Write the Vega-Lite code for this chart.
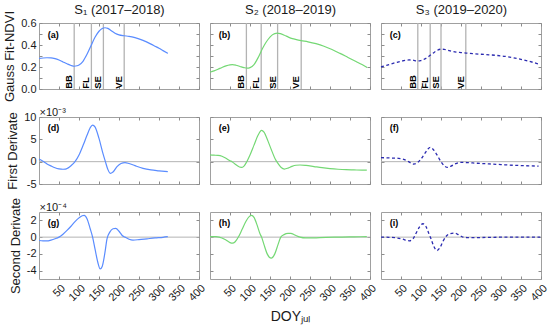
{
"$schema": "https://vega.github.io/schema/vega-lite/v6.json",
"background": "white",
"padding": {"left": 3, "top": 3, "right": 4, "bottom": 2},
"columns": 3,
"spacing": {"row": 28, "column": 11},
"bounds": "flush",
"config": {
  "font": "Liberation Sans",
  "view": {"stroke": "#a0a0a0", "strokeWidth": 1},
  "axis": {"domain": false, "grid": false, "tickSize": -3, "tickColor": "#8c8c8c", "tickWidth": 1, "labelFontSize": 11, "labelColor": "#1a1a1a", "labelPadding": 6, "labelOverlap": false, "labelBound": false, "titleFontSize": 13, "titleFontWeight": "normal", "titleColor": "#1a1a1a", "titlePadding": 4}
},
"datasets": {
  "curves": [
    {"s":"S1","p":"n","doy":0,"v":0.278},{"s":"S1","p":"n","doy":10,"v":0.282},{"s":"S1","p":"n","doy":20,"v":0.284},{"s":"S1","p":"n","doy":30,"v":0.283},{"s":"S1","p":"n","doy":40,"v":0.276},{"s":"S1","p":"n","doy":50,"v":0.263},{"s":"S1","p":"n","doy":60,"v":0.246},{"s":"S1","p":"n","doy":70,"v":0.229},{"s":"S1","p":"n","doy":80,"v":0.214},{"s":"S1","p":"n","doy":88,"v":0.207},{"s":"S1","p":"n","doy":95,"v":0.211},{"s":"S1","p":"n","doy":100,"v":0.219},{"s":"S1","p":"n","doy":110,"v":0.252},{"s":"S1","p":"n","doy":120,"v":0.315},{"s":"S1","p":"n","doy":130,"v":0.393},{"s":"S1","p":"n","doy":140,"v":0.470},{"s":"S1","p":"n","doy":150,"v":0.525},{"s":"S1","p":"n","doy":158,"v":0.550},{"s":"S1","p":"n","doy":165,"v":0.557},{"s":"S1","p":"n","doy":172,"v":0.551},{"s":"S1","p":"n","doy":180,"v":0.532},{"s":"S1","p":"n","doy":190,"v":0.507},{"s":"S1","p":"n","doy":200,"v":0.492},{"s":"S1","p":"n","doy":213,"v":0.484},{"s":"S1","p":"n","doy":225,"v":0.479},{"s":"S1","p":"n","doy":240,"v":0.467},{"s":"S1","p":"n","doy":260,"v":0.442},{"s":"S1","p":"n","doy":280,"v":0.408},{"s":"S1","p":"n","doy":290,"v":0.389},{"s":"S1","p":"n","doy":300,"v":0.370},{"s":"S1","p":"n","doy":310,"v":0.349},{"s":"S1","p":"n","doy":322,"v":0.324},
    {"s":"S1","p":"d1","doy":0,"v":0.6},{"s":"S1","p":"d1","doy":10,"v":0.1},{"s":"S1","p":"d1","doy":20,"v":-0.5},{"s":"S1","p":"d1","doy":30,"v":-0.95},{"s":"S1","p":"d1","doy":40,"v":-1.35},{"s":"S1","p":"d1","doy":50,"v":-1.6},{"s":"S1","p":"d1","doy":60,"v":-1.7},{"s":"S1","p":"d1","doy":66,"v":-1.68},{"s":"S1","p":"d1","doy":72,"v":-1.45},{"s":"S1","p":"d1","doy":80,"v":-0.9},{"s":"S1","p":"d1","doy":90,"v":0.0},{"s":"S1","p":"d1","doy":100,"v":1.5},{"s":"S1","p":"d1","doy":110,"v":3.6},{"s":"S1","p":"d1","doy":120,"v":5.9},{"s":"S1","p":"d1","doy":128,"v":7.6},{"s":"S1","p":"d1","doy":134,"v":8.2},{"s":"S1","p":"d1","doy":140,"v":7.8},{"s":"S1","p":"d1","doy":150,"v":5.2},{"s":"S1","p":"d1","doy":160,"v":1.8},{"s":"S1","p":"d1","doy":166,"v":0.0},{"s":"S1","p":"d1","doy":172,"v":-1.7},{"s":"S1","p":"d1","doy":178,"v":-2.6},{"s":"S1","p":"d1","doy":185,"v":-2.3},{"s":"S1","p":"d1","doy":195,"v":-1.1},{"s":"S1","p":"d1","doy":205,"v":-0.4},{"s":"S1","p":"d1","doy":215,"v":-0.2},{"s":"S1","p":"d1","doy":225,"v":-0.4},{"s":"S1","p":"d1","doy":240,"v":-0.9},{"s":"S1","p":"d1","doy":260,"v":-1.5},{"s":"S1","p":"d1","doy":280,"v":-1.85},{"s":"S1","p":"d1","doy":300,"v":-2.05},{"s":"S1","p":"d1","doy":322,"v":-2.25},
    {"s":"S1","p":"d2","doy":0,"v":-0.4},{"s":"S1","p":"d2","doy":10,"v":-0.45},{"s":"S1","p":"d2","doy":20,"v":-0.45},{"s":"S1","p":"d2","doy":30,"v":-0.35},{"s":"S1","p":"d2","doy":40,"v":-0.2},{"s":"S1","p":"d2","doy":50,"v":0.0},{"s":"S1","p":"d2","doy":60,"v":0.35},{"s":"S1","p":"d2","doy":70,"v":0.8},{"s":"S1","p":"d2","doy":80,"v":1.3},{"s":"S1","p":"d2","doy":90,"v":1.85},{"s":"S1","p":"d2","doy":100,"v":2.3},{"s":"S1","p":"d2","doy":108,"v":2.55},{"s":"S1","p":"d2","doy":113,"v":2.6},{"s":"S1","p":"d2","doy":120,"v":2.2},{"s":"S1","p":"d2","doy":128,"v":1.0},{"s":"S1","p":"d2","doy":134,"v":0.0},{"s":"S1","p":"d2","doy":140,"v":-1.4},{"s":"S1","p":"d2","doy":147,"v":-3.0},{"s":"S1","p":"d2","doy":153,"v":-3.8},{"s":"S1","p":"d2","doy":158,"v":-3.5},{"s":"S1","p":"d2","doy":165,"v":-1.8},{"s":"S1","p":"d2","doy":170,"v":-0.2},{"s":"S1","p":"d2","doy":177,"v":0.6},{"s":"S1","p":"d2","doy":185,"v":1.0},{"s":"S1","p":"d2","doy":192,"v":1.05},{"s":"S1","p":"d2","doy":200,"v":0.7},{"s":"S1","p":"d2","doy":208,"v":0.2},{"s":"S1","p":"d2","doy":215,"v":0.0},{"s":"S1","p":"d2","doy":225,"v":-0.25},{"s":"S1","p":"d2","doy":235,"v":-0.35},{"s":"S1","p":"d2","doy":250,"v":-0.3},{"s":"S1","p":"d2","doy":270,"v":-0.2},{"s":"S1","p":"d2","doy":290,"v":-0.1},{"s":"S1","p":"d2","doy":310,"v":-0.02},{"s":"S1","p":"d2","doy":322,"v":0.05},
    {"s":"S2","p":"n","doy":0,"v":0.152},{"s":"S2","p":"n","doy":10,"v":0.165},{"s":"S2","p":"n","doy":20,"v":0.180},{"s":"S2","p":"n","doy":30,"v":0.196},{"s":"S2","p":"n","doy":40,"v":0.210},{"s":"S2","p":"n","doy":50,"v":0.219},{"s":"S2","p":"n","doy":56,"v":0.221},{"s":"S2","p":"n","doy":65,"v":0.216},{"s":"S2","p":"n","doy":75,"v":0.205},{"s":"S2","p":"n","doy":85,"v":0.194},{"s":"S2","p":"n","doy":93,"v":0.189},{"s":"S2","p":"n","doy":100,"v":0.194},{"s":"S2","p":"n","doy":110,"v":0.222},{"s":"S2","p":"n","doy":120,"v":0.283},{"s":"S2","p":"n","doy":128,"v":0.344},{"s":"S2","p":"n","doy":136,"v":0.400},{"s":"S2","p":"n","doy":145,"v":0.450},{"s":"S2","p":"n","doy":155,"v":0.490},{"s":"S2","p":"n","doy":162,"v":0.504},{"s":"S2","p":"n","doy":168,"v":0.508},{"s":"S2","p":"n","doy":176,"v":0.503},{"s":"S2","p":"n","doy":186,"v":0.489},{"s":"S2","p":"n","doy":196,"v":0.472},{"s":"S2","p":"n","doy":206,"v":0.458},{"s":"S2","p":"n","doy":216,"v":0.449},{"s":"S2","p":"n","doy":228,"v":0.440},{"s":"S2","p":"n","doy":245,"v":0.429},{"s":"S2","p":"n","doy":265,"v":0.412},{"s":"S2","p":"n","doy":285,"v":0.389},{"s":"S2","p":"n","doy":305,"v":0.359},{"s":"S2","p":"n","doy":325,"v":0.324},{"s":"S2","p":"n","doy":345,"v":0.287},{"s":"S2","p":"n","doy":365,"v":0.250},{"s":"S2","p":"n","doy":380,"v":0.222},{"s":"S2","p":"n","doy":393,"v":0.195},
    {"s":"S2","p":"d1","doy":0,"v":1.5},{"s":"S2","p":"d1","doy":10,"v":1.45},{"s":"S2","p":"d1","doy":20,"v":1.4},{"s":"S2","p":"d1","doy":30,"v":1.2},{"s":"S2","p":"d1","doy":40,"v":0.75},{"s":"S2","p":"d1","doy":50,"v":0.2},{"s":"S2","p":"d1","doy":55,"v":0.0},{"s":"S2","p":"d1","doy":65,"v":-0.7},{"s":"S2","p":"d1","doy":78,"v":-1.3},{"s":"S2","p":"d1","doy":85,"v":-1.0},{"s":"S2","p":"d1","doy":92,"v":0.0},{"s":"S2","p":"d1","doy":100,"v":1.5},{"s":"S2","p":"d1","doy":110,"v":3.7},{"s":"S2","p":"d1","doy":120,"v":5.9},{"s":"S2","p":"d1","doy":129,"v":7.0},{"s":"S2","p":"d1","doy":135,"v":6.6},{"s":"S2","p":"d1","doy":145,"v":4.6},{"s":"S2","p":"d1","doy":155,"v":2.3},{"s":"S2","p":"d1","doy":163,"v":0.6},{"s":"S2","p":"d1","doy":170,"v":-0.4},{"s":"S2","p":"d1","doy":178,"v":-1.3},{"s":"S2","p":"d1","doy":186,"v":-1.65},{"s":"S2","p":"d1","doy":195,"v":-1.45},{"s":"S2","p":"d1","doy":205,"v":-1.05},{"s":"S2","p":"d1","doy":215,"v":-0.8},{"s":"S2","p":"d1","doy":225,"v":-0.75},{"s":"S2","p":"d1","doy":240,"v":-0.85},{"s":"S2","p":"d1","doy":260,"v":-1.1},{"s":"S2","p":"d1","doy":280,"v":-1.35},{"s":"S2","p":"d1","doy":300,"v":-1.55},{"s":"S2","p":"d1","doy":320,"v":-1.7},{"s":"S2","p":"d1","doy":340,"v":-1.8},{"s":"S2","p":"d1","doy":360,"v":-1.85},{"s":"S2","p":"d1","doy":380,"v":-1.9},{"s":"S2","p":"d1","doy":392,"v":-1.9},
    {"s":"S2","p":"d2","doy":0,"v":0.07},{"s":"S2","p":"d2","doy":15,"v":0.05},{"s":"S2","p":"d2","doy":30,"v":-0.1},{"s":"S2","p":"d2","doy":40,"v":-0.35},{"s":"S2","p":"d2","doy":50,"v":-0.65},{"s":"S2","p":"d2","doy":56,"v":-0.72},{"s":"S2","p":"d2","doy":63,"v":-0.55},{"s":"S2","p":"d2","doy":72,"v":0.1},{"s":"S2","p":"d2","doy":80,"v":0.9},{"s":"S2","p":"d2","doy":90,"v":1.9},{"s":"S2","p":"d2","doy":98,"v":2.45},{"s":"S2","p":"d2","doy":104,"v":2.6},{"s":"S2","p":"d2","doy":110,"v":2.35},{"s":"S2","p":"d2","doy":118,"v":1.4},{"s":"S2","p":"d2","doy":125,"v":0.4},{"s":"S2","p":"d2","doy":129,"v":0.0},{"s":"S2","p":"d2","doy":135,"v":-0.9},{"s":"S2","p":"d2","doy":143,"v":-2.0},{"s":"S2","p":"d2","doy":153,"v":-2.5},{"s":"S2","p":"d2","doy":162,"v":-2.0},{"s":"S2","p":"d2","doy":170,"v":-0.9},{"s":"S2","p":"d2","doy":177,"v":0.0},{"s":"S2","p":"d2","doy":185,"v":0.3},{"s":"S2","p":"d2","doy":195,"v":0.45},{"s":"S2","p":"d2","doy":202,"v":0.45},{"s":"S2","p":"d2","doy":212,"v":0.25},{"s":"S2","p":"d2","doy":225,"v":0.0},{"s":"S2","p":"d2","doy":240,"v":-0.1},{"s":"S2","p":"d2","doy":260,"v":-0.08},{"s":"S2","p":"d2","doy":290,"v":-0.02},{"s":"S2","p":"d2","doy":330,"v":0.0},{"s":"S2","p":"d2","doy":360,"v":0.03},{"s":"S2","p":"d2","doy":392,"v":0.06},
    {"s":"S3","p":"n","doy":0,"v":0.200},{"s":"S3","p":"n","doy":10,"v":0.210},{"s":"S3","p":"n","doy":20,"v":0.222},{"s":"S3","p":"n","doy":30,"v":0.233},{"s":"S3","p":"n","doy":40,"v":0.243},{"s":"S3","p":"n","doy":50,"v":0.252},{"s":"S3","p":"n","doy":60,"v":0.260},{"s":"S3","p":"n","doy":70,"v":0.264},{"s":"S3","p":"n","doy":80,"v":0.262},{"s":"S3","p":"n","doy":90,"v":0.255},{"s":"S3","p":"n","doy":95,"v":0.255},{"s":"S3","p":"n","doy":100,"v":0.259},{"s":"S3","p":"n","doy":110,"v":0.274},{"s":"S3","p":"n","doy":120,"v":0.298},{"s":"S3","p":"n","doy":130,"v":0.325},{"s":"S3","p":"n","doy":140,"v":0.350},{"s":"S3","p":"n","doy":150,"v":0.362},{"s":"S3","p":"n","doy":158,"v":0.360},{"s":"S3","p":"n","doy":166,"v":0.353},{"s":"S3","p":"n","doy":176,"v":0.343},{"s":"S3","p":"n","doy":188,"v":0.335},{"s":"S3","p":"n","doy":200,"v":0.331},{"s":"S3","p":"n","doy":213,"v":0.327},{"s":"S3","p":"n","doy":230,"v":0.322},{"s":"S3","p":"n","doy":250,"v":0.316},{"s":"S3","p":"n","doy":270,"v":0.311},{"s":"S3","p":"n","doy":290,"v":0.305},{"s":"S3","p":"n","doy":310,"v":0.297},{"s":"S3","p":"n","doy":330,"v":0.285},{"s":"S3","p":"n","doy":350,"v":0.270},{"s":"S3","p":"n","doy":370,"v":0.252},{"s":"S3","p":"n","doy":385,"v":0.237},{"s":"S3","p":"n","doy":398,"v":0.222},
    {"s":"S3","p":"d1","doy":0,"v":0.9},{"s":"S3","p":"d1","doy":15,"v":0.85},{"s":"S3","p":"d1","doy":30,"v":0.8},{"s":"S3","p":"d1","doy":44,"v":0.75},{"s":"S3","p":"d1","doy":55,"v":0.55},{"s":"S3","p":"d1","doy":65,"v":0.2},{"s":"S3","p":"d1","doy":75,"v":-0.3},{"s":"S3","p":"d1","doy":82,"v":-0.53},{"s":"S3","p":"d1","doy":90,"v":-0.3},{"s":"S3","p":"d1","doy":100,"v":0.6},{"s":"S3","p":"d1","doy":110,"v":1.9},{"s":"S3","p":"d1","doy":117,"v":2.8},{"s":"S3","p":"d1","doy":123,"v":3.2},{"s":"S3","p":"d1","doy":130,"v":2.8},{"s":"S3","p":"d1","doy":140,"v":1.5},{"s":"S3","p":"d1","doy":150,"v":0.0},{"s":"S3","p":"d1","doy":158,"v":-0.9},{"s":"S3","p":"d1","doy":167,"v":-1.28},{"s":"S3","p":"d1","doy":175,"v":-1.0},{"s":"S3","p":"d1","doy":185,"v":-0.5},{"s":"S3","p":"d1","doy":195,"v":-0.2},{"s":"S3","p":"d1","doy":203,"v":-0.15},{"s":"S3","p":"d1","doy":215,"v":-0.2},{"s":"S3","p":"d1","doy":240,"v":-0.35},{"s":"S3","p":"d1","doy":270,"v":-0.5},{"s":"S3","p":"d1","doy":300,"v":-0.65},{"s":"S3","p":"d1","doy":330,"v":-0.8},{"s":"S3","p":"d1","doy":360,"v":-0.9},{"s":"S3","p":"d1","doy":394,"v":-1.0},
    {"s":"S3","p":"d2","doy":0,"v":0.0},{"s":"S3","p":"d2","doy":20,"v":-0.02},{"s":"S3","p":"d2","doy":40,"v":-0.1},{"s":"S3","p":"d2","doy":55,"v":-0.25},{"s":"S3","p":"d2","doy":65,"v":-0.4},{"s":"S3","p":"d2","doy":71,"v":-0.44},{"s":"S3","p":"d2","doy":80,"v":-0.2},{"s":"S3","p":"d2","doy":88,"v":0.5},{"s":"S3","p":"d2","doy":96,"v":1.2},{"s":"S3","p":"d2","doy":105,"v":1.6},{"s":"S3","p":"d2","doy":112,"v":1.3},{"s":"S3","p":"d2","doy":120,"v":0.4},{"s":"S3","p":"d2","doy":125,"v":-0.2},{"s":"S3","p":"d2","doy":132,"v":-1.1},{"s":"S3","p":"d2","doy":140,"v":-1.6},{"s":"S3","p":"d2","doy":148,"v":-1.2},{"s":"S3","p":"d2","doy":155,"v":-0.5},{"s":"S3","p":"d2","doy":163,"v":0.1},{"s":"S3","p":"d2","doy":172,"v":0.4},{"s":"S3","p":"d2","doy":184,"v":0.48},{"s":"S3","p":"d2","doy":195,"v":0.25},{"s":"S3","p":"d2","doy":205,"v":0.0},{"s":"S3","p":"d2","doy":215,"v":-0.05},{"s":"S3","p":"d2","doy":240,"v":-0.05},{"s":"S3","p":"d2","doy":280,"v":-0.02},{"s":"S3","p":"d2","doy":320,"v":0.0},{"s":"S3","p":"d2","doy":360,"v":0.0},{"s":"S3","p":"d2","doy":398,"v":0.0}
  ],
  "events": [
    {"s":"S1","ev":"BB","doy":88},{"s":"S1","ev":"FL","doy":131},{"s":"S1","ev":"SE","doy":161},{"s":"S1","ev":"VE","doy":213},
    {"s":"S2","ev":"BB","doy":91},{"s":"S2","ev":"FL","doy":128},{"s":"S2","ev":"SE","doy":169},{"s":"S2","ev":"VE","doy":228},
    {"s":"S3","ev":"BB","doy":92},{"s":"S3","ev":"FL","doy":123},{"s":"S3","ev":"SE","doy":150},{"s":"S3","ev":"VE","doy":212}
  ]
},
"concat": [
  {"width":160,"height":66,"data":{"values":[{"t":"(a)"}]},
   "layer":[
    {"data":{"name":"events"},"transform":[{"filter":"datum.s=='S1'"}],"mark":{"type":"rule","color":"#b3b3b3","strokeWidth":1.3},"encoding":{"x":{"field":"doy","type":"quantitative","axis":null}}},
    {"data":{"name":"events"},"transform":[{"filter":"datum.s=='S1'"}],"mark":{"type":"text","angle":270,"align":"left","baseline":"bottom","dx":-2,"fontSize":9.5,"fontWeight":"bold"},"encoding":{"x":{"field":"doy","type":"quantitative","axis":null},"y":{"datum":0.02,"axis":null},"text":{"field":"ev"}}},
    {"data":{"name":"curves"},"transform":[{"filter":"datum.s=='S1' && datum.p=='n'"}],"mark":{"type":"line","color":"#5a8cff","strokeWidth":1.2,"interpolate":"monotone"},"encoding":{"x":{"field":"doy","type":"quantitative","scale":{"domain":[0,400],"nice":false},"axis":{"orient":"bottom","values":[50,100,150,200,250,300,350,400],"labels":false,"title":null}},"y":{"field":"v","type":"quantitative","scale":{"domain":[0,0.6],"nice":false},"axis":{"orient":"left","values":[0,0.1,0.2,0.3,0.4,0.5,0.6],"labelExpr":"round(datum.value*10) % 2 == 0 ? datum.label : ''","title":"Gauss Fit-NDVI"}}}},
    {"mark":{"type":"text","align":"left","baseline":"middle","fontSize":9,"fontWeight":"bold"},"encoding":{"x":{"datum":22,"type":"quantitative","axis":{"orient":"top","values":[50,100,150,200,250,300,350,400],"labels":false,"title":"S₁ (2017–2018)","titlePadding":6}},"y":{"datum":0.49,"type":"quantitative","axis":{"orient":"right","values":[0,0.1,0.2,0.3,0.4,0.5,0.6],"labels":false,"title":null}},"text":{"field":"t"}}}
   ],"resolve":{"axis":{"x":"independent","y":"independent"}}},
  {"width":160,"height":66,"data":{"values":[{"t":"(b)"}]},
   "layer":[
    {"data":{"name":"events"},"transform":[{"filter":"datum.s=='S2'"}],"mark":{"type":"rule","color":"#b3b3b3","strokeWidth":1.3},"encoding":{"x":{"field":"doy","type":"quantitative","axis":null}}},
    {"data":{"name":"events"},"transform":[{"filter":"datum.s=='S2'"}],"mark":{"type":"text","angle":270,"align":"left","baseline":"bottom","dx":-2,"fontSize":9.5,"fontWeight":"bold"},"encoding":{"x":{"field":"doy","type":"quantitative","axis":null},"y":{"datum":0.02,"axis":null},"text":{"field":"ev"}}},
    {"data":{"name":"curves"},"transform":[{"filter":"datum.s=='S2' && datum.p=='n'"}],"mark":{"type":"line","color":"#74d874","strokeWidth":1.2,"interpolate":"monotone"},"encoding":{"x":{"field":"doy","type":"quantitative","scale":{"domain":[0,400],"nice":false},"axis":{"orient":"bottom","values":[50,100,150,200,250,300,350,400],"labels":false,"title":null}},"y":{"field":"v","type":"quantitative","scale":{"domain":[0,0.6],"nice":false},"axis":{"orient":"left","values":[0,0.1,0.2,0.3,0.4,0.5,0.6],"labels":false,"title":null}}}},
    {"mark":{"type":"text","align":"left","baseline":"middle","fontSize":9,"fontWeight":"bold"},"encoding":{"x":{"datum":22,"type":"quantitative","axis":{"orient":"top","values":[50,100,150,200,250,300,350,400],"labels":false,"title":"S₂ (2018–2019)","titlePadding":6}},"y":{"datum":0.49,"type":"quantitative","axis":{"orient":"right","values":[0,0.1,0.2,0.3,0.4,0.5,0.6],"labels":false,"title":null}},"text":{"field":"t"}}}
   ],"resolve":{"axis":{"x":"independent","y":"independent"}}},
  {"width":160,"height":66,"data":{"values":[{"t":"(c)"}]},
   "layer":[
    {"data":{"name":"events"},"transform":[{"filter":"datum.s=='S3'"}],"mark":{"type":"rule","color":"#b3b3b3","strokeWidth":1.3},"encoding":{"x":{"field":"doy","type":"quantitative","axis":null}}},
    {"data":{"name":"events"},"transform":[{"filter":"datum.s=='S3'"}],"mark":{"type":"text","angle":270,"align":"left","baseline":"bottom","dx":-2,"fontSize":9.5,"fontWeight":"bold"},"encoding":{"x":{"field":"doy","type":"quantitative","axis":null},"y":{"datum":0.02,"axis":null},"text":{"field":"ev"}}},
    {"data":{"name":"curves"},"transform":[{"filter":"datum.s=='S3' && datum.p=='n'"}],"mark":{"type":"line","color":"#2a2ab0","strokeWidth":1.3,"strokeDash":[3,2.5],"interpolate":"monotone"},"encoding":{"x":{"field":"doy","type":"quantitative","scale":{"domain":[0,400],"nice":false},"axis":{"orient":"bottom","values":[50,100,150,200,250,300,350,400],"labels":false,"title":null}},"y":{"field":"v","type":"quantitative","scale":{"domain":[0,0.6],"nice":false},"axis":{"orient":"left","values":[0,0.1,0.2,0.3,0.4,0.5,0.6],"labels":false,"title":null}}}},
    {"mark":{"type":"text","align":"left","baseline":"middle","fontSize":9,"fontWeight":"bold"},"encoding":{"x":{"datum":22,"type":"quantitative","axis":{"orient":"top","values":[50,100,150,200,250,300,350,400],"labels":false,"title":"S₃ (2019–2020)","titlePadding":6}},"y":{"datum":0.49,"type":"quantitative","axis":{"orient":"right","values":[0,0.1,0.2,0.3,0.4,0.5,0.6],"labels":false,"title":null}},"text":{"field":"t"}}}
   ],"resolve":{"axis":{"x":"independent","y":"independent"}}},
  {"width":160,"height":67,"data":{"values":[{"t":"(d)"}]},
   "layer":[
    {"mark":{"type":"rule","color":"#b3b3b3"},"encoding":{"y":{"datum":0,"type":"quantitative","axis":null}}},
    {"data":{"name":"curves"},"transform":[{"filter":"datum.s=='S1' && datum.p=='d1'"}],"mark":{"type":"line","color":"#5a8cff","strokeWidth":1.2,"interpolate":"monotone"},"encoding":{"x":{"field":"doy","type":"quantitative","scale":{"domain":[0,400],"nice":false},"axis":{"orient":"bottom","values":[50,100,150,200,250,300,350,400],"labels":false,"title":null}},"y":{"field":"v","type":"quantitative","scale":{"domain":[-5,10],"nice":false},"axis":{"orient":"left","values":[-5,0,5,10],"labelExpr":"replace(datum.label,'−','-')","title":"First Derivate"}}}},
    {"mark":{"type":"text","align":"left","baseline":"middle","fontSize":9,"fontWeight":"bold"},"encoding":{"x":{"datum":22,"type":"quantitative","axis":{"orient":"top","values":[50,100,150,200,250,300,350,400],"labels":false,"title":"×10⁻³","titleAnchor":"start","titleFontSize":11,"titlePadding":-1}},"y":{"datum":7.6,"type":"quantitative","axis":{"orient":"right","values":[-5,0,5,10],"labels":false,"title":null}},"text":{"field":"t"}}}
   ],"resolve":{"axis":{"x":"independent","y":"independent"}}},
  {"width":160,"height":67,"data":{"values":[{"t":"(e)"}]},
   "layer":[
    {"mark":{"type":"rule","color":"#b3b3b3"},"encoding":{"y":{"datum":0,"type":"quantitative","axis":null}}},
    {"data":{"name":"curves"},"transform":[{"filter":"datum.s=='S2' && datum.p=='d1'"}],"mark":{"type":"line","color":"#74d874","strokeWidth":1.2,"interpolate":"monotone"},"encoding":{"x":{"field":"doy","type":"quantitative","scale":{"domain":[0,400],"nice":false},"axis":{"orient":"bottom","values":[50,100,150,200,250,300,350,400],"labels":false,"title":null}},"y":{"field":"v","type":"quantitative","scale":{"domain":[-5,10],"nice":false},"axis":{"orient":"left","values":[-5,0,5,10],"labels":false,"title":null}}}},
    {"mark":{"type":"text","align":"left","baseline":"middle","fontSize":9,"fontWeight":"bold"},"encoding":{"x":{"datum":22,"type":"quantitative","axis":{"orient":"top","values":[50,100,150,200,250,300,350,400],"labels":false,"title":null}},"y":{"datum":7.6,"type":"quantitative","axis":{"orient":"right","values":[-5,0,5,10],"labels":false,"title":null}},"text":{"field":"t"}}}
   ],"resolve":{"axis":{"x":"independent","y":"independent"}}},
  {"width":160,"height":67,"data":{"values":[{"t":"(f)"}]},
   "layer":[
    {"mark":{"type":"rule","color":"#b3b3b3"},"encoding":{"y":{"datum":0,"type":"quantitative","axis":null}}},
    {"data":{"name":"curves"},"transform":[{"filter":"datum.s=='S3' && datum.p=='d1'"}],"mark":{"type":"line","color":"#2a2ab0","strokeWidth":1.3,"strokeDash":[3,2.5],"interpolate":"monotone"},"encoding":{"x":{"field":"doy","type":"quantitative","scale":{"domain":[0,400],"nice":false},"axis":{"orient":"bottom","values":[50,100,150,200,250,300,350,400],"labels":false,"title":null}},"y":{"field":"v","type":"quantitative","scale":{"domain":[-5,10],"nice":false},"axis":{"orient":"left","values":[-5,0,5,10],"labels":false,"title":null}}}},
    {"mark":{"type":"text","align":"left","baseline":"middle","fontSize":9,"fontWeight":"bold"},"encoding":{"x":{"datum":22,"type":"quantitative","axis":{"orient":"top","values":[50,100,150,200,250,300,350,400],"labels":false,"title":null}},"y":{"datum":7.6,"type":"quantitative","axis":{"orient":"right","values":[-5,0,5,10],"labels":false,"title":null}},"text":{"field":"t"}}}
   ],"resolve":{"axis":{"x":"independent","y":"independent"}}},
  {"width":160,"height":67,"data":{"values":[{"t":"(g)"}]},
   "layer":[
    {"mark":{"type":"rule","color":"#b3b3b3"},"encoding":{"y":{"datum":0,"type":"quantitative","axis":null}}},
    {"data":{"name":"curves"},"transform":[{"filter":"datum.s=='S1' && datum.p=='d2'"}],"mark":{"type":"line","color":"#5a8cff","strokeWidth":1.2,"interpolate":"monotone"},"encoding":{"x":{"field":"doy","type":"quantitative","scale":{"domain":[0,400],"nice":false},"axis":{"orient":"bottom","values":[50,100,150,200,250,300,350,400],"labelAngle":-45,"title":null}},"y":{"field":"v","type":"quantitative","scale":{"domain":[-5,3],"nice":false},"axis":{"orient":"left","values":[-4,-2,0,2],"labelExpr":"replace(datum.label,'−','-')","title":"Second Derivate"}}}},
    {"mark":{"type":"text","align":"left","baseline":"middle","fontSize":9,"fontWeight":"bold"},"encoding":{"x":{"datum":22,"type":"quantitative","axis":{"orient":"top","values":[50,100,150,200,250,300,350,400],"labels":false,"title":"×10⁻⁴","titleAnchor":"start","titleFontSize":11,"titlePadding":-1}},"y":{"datum":1.7,"type":"quantitative","axis":{"orient":"right","values":[-4,-2,0,2],"labels":false,"title":null}},"text":{"field":"t"}}}
   ],"resolve":{"axis":{"x":"independent","y":"independent"}}},
  {"width":160,"height":67,"data":{"values":[{"t":"(h)"}]},
   "layer":[
    {"mark":{"type":"rule","color":"#b3b3b3"},"encoding":{"y":{"datum":0,"type":"quantitative","axis":null}}},
    {"data":{"name":"curves"},"transform":[{"filter":"datum.s=='S2' && datum.p=='d2'"}],"mark":{"type":"line","color":"#74d874","strokeWidth":1.2,"interpolate":"monotone"},"encoding":{"x":{"field":"doy","type":"quantitative","scale":{"domain":[0,400],"nice":false},"axis":{"orient":"bottom","values":[50,100,150,200,250,300,350,400],"labelAngle":-45,"title":"DOYⱼᵤₗ","titleFontSize":14,"titlePadding":7}},"y":{"field":"v","type":"quantitative","scale":{"domain":[-5,3],"nice":false},"axis":{"orient":"left","values":[-4,-2,0,2],"labels":false,"title":null}}}},
    {"mark":{"type":"text","align":"left","baseline":"middle","fontSize":9,"fontWeight":"bold"},"encoding":{"x":{"datum":22,"type":"quantitative","axis":{"orient":"top","values":[50,100,150,200,250,300,350,400],"labels":false,"title":null}},"y":{"datum":1.7,"type":"quantitative","axis":{"orient":"right","values":[-4,-2,0,2],"labels":false,"title":null}},"text":{"field":"t"}}}
   ],"resolve":{"axis":{"x":"independent","y":"independent"}}},
  {"width":160,"height":67,"data":{"values":[{"t":"(i)"}]},
   "layer":[
    {"mark":{"type":"rule","color":"#b3b3b3"},"encoding":{"y":{"datum":0,"type":"quantitative","axis":null}}},
    {"data":{"name":"curves"},"transform":[{"filter":"datum.s=='S3' && datum.p=='d2'"}],"mark":{"type":"line","color":"#2a2ab0","strokeWidth":1.3,"strokeDash":[3,2.5],"interpolate":"monotone"},"encoding":{"x":{"field":"doy","type":"quantitative","scale":{"domain":[0,400],"nice":false},"axis":{"orient":"bottom","values":[50,100,150,200,250,300,350,400],"labelAngle":-45,"title":null}},"y":{"field":"v","type":"quantitative","scale":{"domain":[-5,3],"nice":false},"axis":{"orient":"left","values":[-4,-2,0,2],"labels":false,"title":null}}}},
    {"mark":{"type":"text","align":"left","baseline":"middle","fontSize":9,"fontWeight":"bold"},"encoding":{"x":{"datum":22,"type":"quantitative","axis":{"orient":"top","values":[50,100,150,200,250,300,350,400],"labels":false,"title":null}},"y":{"datum":1.7,"type":"quantitative","axis":{"orient":"right","values":[-4,-2,0,2],"labels":false,"title":null}},"text":{"field":"t"}}}
   ],"resolve":{"axis":{"x":"independent","y":"independent"}}}
]
}
